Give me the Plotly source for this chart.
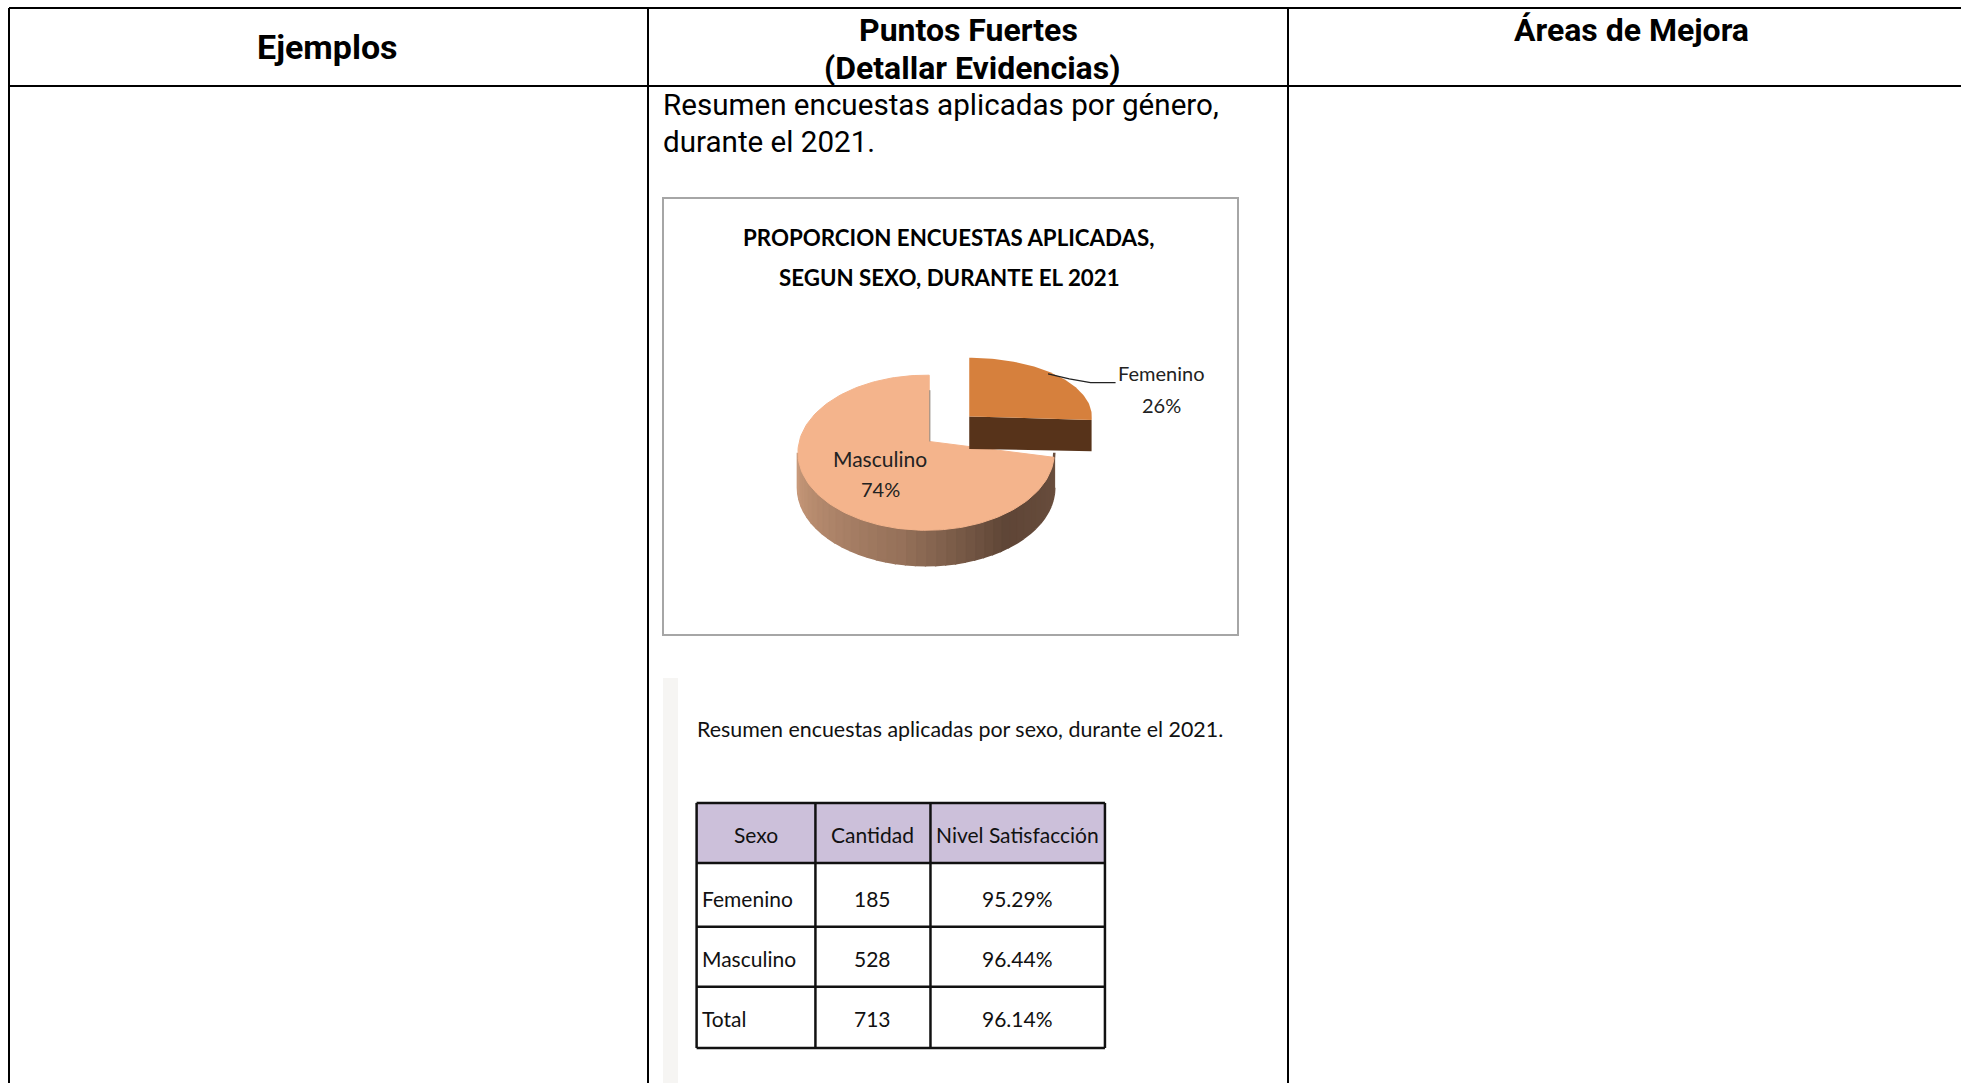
import numpy as np
import plotly.graph_objects as go

# ---- data ----
sex_labels = ["Femenino", "Masculino"]
sex_counts = [185, 528]
pct_labels = ["26%", "74%"]
table_columns = ["Sexo", "Cantidad", "Nivel Satisfacción"]
table_sexo = ["Femenino", "Masculino", "Total"]
table_cantidad = ["185", "528", "713"]
table_nivel = ["95.29%", "96.44%", "96.14%"]
header_cols = ["Ejemplos", "Puntos Fuertes<br>(Detallar Evidencias)", "Áreas de Mejora"]
intro_text = "Resumen encuestas aplicadas por género,<br>durante el 2021."
chart_title = "PROPORCION ENCUESTAS APLICADAS,<br>SEGUN SEXO, DURANTE EL 2021"
caption = "Resumen encuestas aplicadas por sexo, durante el 2021."

S = 1961 / 1568  # reference was measured at 1568 wide
W, H = 1961, 1083
BAH = "Roboto"
NARROW = "Lato"

fig = go.Figure()


def hex2rgb(h):
    return np.array([int(h[i:i + 2], 16) for i in (1, 3, 5)], float)


def grad(t):
    stops = [(0, "#cb9c7c"), (0.45, "#96715a"), (0.72, "#5f4637"), (1, "#6b4f3e")]
    for (a, ca), (b, cb) in zip(stops, stops[1:]):
        if t <= b:
            c = hex2rgb(ca) + (hex2rgb(cb) - hex2rgb(ca)) * (t - a) / (b - a)
            return "rgb(%d,%d,%d)" % tuple(c)
    return stops[-1][1]


def poly(xs, ys, color, line=0):
    fig.add_trace(go.Scatter(x=np.array(xs) * S, y=np.array(ys) * S, mode="lines", fill="toself",
                             fillcolor=color, line=dict(color=color, width=line),
                             hoverinfo="skip", showlegend=False))


total = sum(sex_counts)
split = 2 * np.pi * sex_counts[0] / total  # clockwise from the top
depth = 28

# Masculino side wall, shaded strip by strip
m_cx, m_cy, m_rx, m_ry = 740.5, 362, 102.5, 62
edges = np.linspace(np.pi / 2, 3 * np.pi / 2, 41)  # angle from top, front half
for a, b in zip(edges[:-1], edges[1:]):
    t = (a - np.pi / 2) / np.pi
    ang = np.linspace(a, b, 4)
    x = m_cx + m_rx * np.sin(ang)
    y = m_cy - m_ry * np.cos(ang)
    poly(np.r_[x, x[::-1]], np.r_[y, y[::-1] + depth], grad(1 - t), 2.5)

# Masculino top face
ang = np.linspace(split, 2 * np.pi, 150)
vx, vy = 743, 353
poly(np.r_[vx, m_cx + m_rx * np.sin(ang), vx, vx],
     np.r_[vy, m_cy - m_ry * np.cos(ang), m_cy - m_ry, vy], "#f4b48c", 1)
fig.add_trace(go.Scatter(x=np.array([743.5, 743.5]) * S, y=np.array([312, 353]) * S, mode="lines",
                         line=dict(color="#8a8078", width=1), hoverinfo="skip", showlegend=False))

# Femenino wedge, pulled away
f_vx, f_vy, f_rx, f_ry = 775, 333, 98, 47
ang = np.linspace(0, split, 80)
fx = f_vx + f_rx * np.sin(ang)
fy = f_vy - f_ry * np.cos(ang)
poly([f_vx, fx[-1], fx[-1], f_vx], [f_vy, fy[-1], fy[-1] + 25, f_vy + 26], "#57331a")
poly(np.r_[f_vx, fx, f_vx], np.r_[f_vy, fy, f_vy], "#d6803d")

# Leader line
fig.add_trace(go.Scatter(x=np.array([838, 855, 872, 892]) * S, y=np.array([299, 303, 306, 306]) * S,
                         mode="lines", line=dict(color="#222", width=1.3),
                         hoverinfo="skip", showlegend=False))

shapes = []
ann = []
BL = dict(color="black", width=2)
# outer frame
shapes.append(dict(type="line", xref="x", yref="y", x0=9, x1=W, y0=8, y1=8, line=BL))
shapes.append(dict(type="line", xref="x", yref="y", x0=9, x1=W, y0=86, y1=86, line=BL))
for xv in (9, 648, 1288):
    shapes.append(dict(type="line", xref="x", yref="y", x0=xv, x1=xv, y0=8, y1=H, line=BL))
# chart frame
shapes.append(dict(type="rect", xref="x", yref="y", x0=663, x1=1238, y0=198, y1=635,
                   line=dict(color="#a6a6a6", width=2), fillcolor="rgba(0,0,0,0)", layer="below"))
# pale bar left of the second picture
shapes.append(dict(type="rect", xref="x", yref="y", x0=663, x1=678, y0=678, y1=H,
                   line=dict(width=0), fillcolor="#f6f5f3", layer="below"))


def txt(x, y, s, size, family=BAH, weight="normal", anchor="center", color="black"):
    ann.append(dict(x=x, y=y, xref="x", yref="y", text=s, showarrow=False, xanchor=anchor, yanchor="middle",
                    font=dict(family=family, size=size, color=color, weight=weight)))


# small data table
col_edges = np.array([557, 652, 744, 883.5]) * S
row_edges = np.array([642, 690, 741, 789, 838]) * S
TL = dict(color="#111", width=2.5)
shapes.append(dict(type="rect", xref="x", yref="y", x0=col_edges[0], x1=col_edges[-1], y0=row_edges[0],
                   y1=row_edges[1], fillcolor="#ccc0da", line=dict(width=0), layer="below"))
for xv in col_edges:
    shapes.append(dict(type="line", xref="x", yref="y", x0=xv, x1=xv, y0=row_edges[0], y1=row_edges[-1], line=TL))
for yv in row_edges:
    shapes.append(dict(type="line", xref="x", yref="y", x0=col_edges[0], x1=col_edges[-1], y0=yv, y1=yv, line=TL))
col_mid = (col_edges[:-1] + col_edges[1:]) / 2
row_mid = (row_edges[:-1] + row_edges[1:]) / 2
row_text_y = row_mid + np.array([2, 4, 2, 1])
tbl_size = 21
for c, name in enumerate(table_columns):
    txt(col_mid[c], row_text_y[0], name, tbl_size, family=NARROW, color="#111")
for r in range(3):
    txt(col_edges[0] + 3, row_text_y[r + 1], table_sexo[r], tbl_size, family=NARROW, anchor="left", color="#111")
    txt(col_mid[1], row_text_y[r + 1], table_cantidad[r], tbl_size, family=NARROW, color="#111")
    txt(col_mid[2], row_text_y[r + 1], table_nivel[r], tbl_size, family=NARROW, color="#111")

txt(327, 47, header_cols[0], 34, weight="bold")
pf = header_cols[1].split("<br>")
txt(968, 30, pf[0], 32, weight="bold")
txt(972, 68, pf[1], 32, weight="bold")
txt(1631, 30, header_cols[2], 32, weight="bold")
it = intro_text.split("<br>")
txt(660.5, 105, it[0], 29.6, anchor="left")
txt(660.5, 142, it[1], 29.6, anchor="left")
ct = chart_title.split("<br>")
txt(949, 237, ct[0], 22.3, family=NARROW, weight="bold")
txt(949, 277, ct[1], 22.3, family=NARROW, weight="bold")
txt(1161, 373, sex_labels[0], 20, family=NARROW, color="#222")
txt(1161, 405, pct_labels[0], 20, family=NARROW, color="#222")
txt(880, 458, sex_labels[1], 21, family=NARROW, color="#222")
txt(880, 489, pct_labels[1], 20, family=NARROW, color="#222")
txt(695, 729, caption, 21.4, family=NARROW, anchor="left", color="#111")

fig.update_layout(
    width=W, height=H, margin=dict(l=0, r=0, t=0, b=0), paper_bgcolor="white", plot_bgcolor="white",
    xaxis=dict(range=[0, W], visible=False, fixedrange=True),
    yaxis=dict(range=[H, 0], visible=False, fixedrange=True),
    shapes=shapes, annotations=ann, showlegend=False,
)
fig.write_html("out.html", post_script="document.body.style.margin='0';document.body.style.overflow='hidden';",
               config=dict(displayModeBar=False))
